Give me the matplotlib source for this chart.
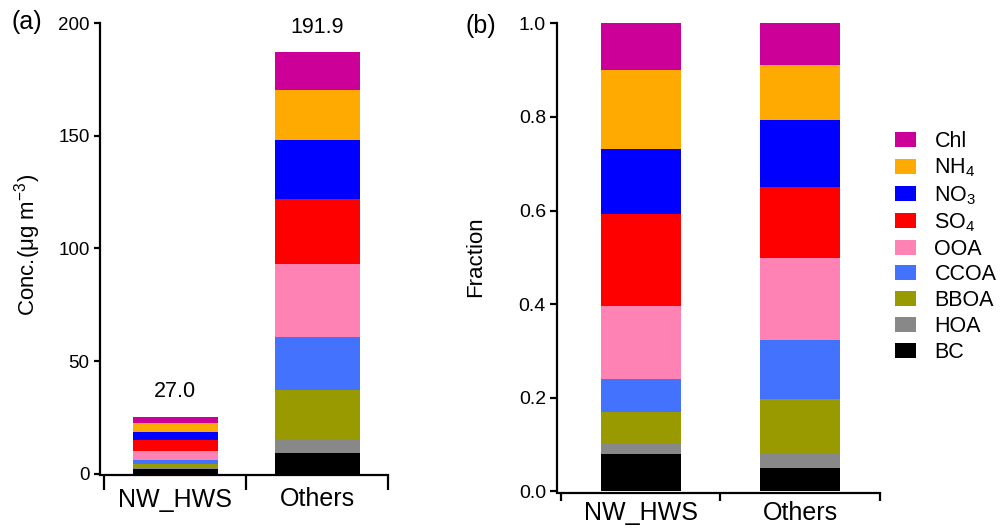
import matplotlib
matplotlib.use("Agg")
import matplotlib.pyplot as plt
import numpy as np
from matplotlib.ticker import FixedLocator, FormatStrFormatter

plt.rcParams['font.family'] = ['Liberation Sans', 'DejaVu Sans']
plt.rcParams['mathtext.fontset'] = 'custom'
plt.rcParams['mathtext.rm'] = 'Liberation Sans'
plt.rcParams['mathtext.it'] = 'Liberation Sans:italic'
plt.rcParams['mathtext.bf'] = 'Liberation Sans:bold'

# ---------------- data ----------------
categories = ["NW_HWS", "Others"]
species = ["BC", "HOA", "BBOA", "CCOA", "OOA", "SO4", "NO3", "NH4", "Chl"]
species_labels = ["BC", "HOA", "BBOA", "CCOA", "OOA",
                  r"SO$_{\mathregular{4}}$", r"NO$_{\mathregular{3}}$",
                  r"NH$_{\mathregular{4}}$", "Chl"]
colors = ["#000000", "#888888", "#999900", "#4372FF", "#FF82B4",
          "#FF0000", "#0000FF", "#FFAA00", "#CC0099"]

conc_nw_hws = [2.00, 0.63, 1.67, 1.80, 3.90, 5.01, 3.52, 4.23, 2.55]
conc_others = [9.2, 6.1, 21.7, 23.5, 32.6, 28.7, 26.5, 22.1, 16.7]
total_labels = ["27.0", "191.9"]

conc = np.array([conc_nw_hws, conc_others])          # (category, species)
frac = conc / conc.sum(axis=1, keepdims=True)

# ---------------- figure ----------------
W, H = 1003, 528
fig = plt.figure(figsize=(W / 100, H / 100), dpi=100)

def px_axes(l, r, t, b):
    return fig.add_axes([l / W, (H - b) / H, (r - l) / W, (b - t) / H])

axa = px_axes(100, 388, 23, 475)
axb = px_axes(557, 880, 23.3, 493.3)

x = np.arange(len(categories))

def stacked(ax, data, width):
    bottom = np.zeros(len(categories))
    handles = []
    for j, sp in enumerate(species):
        h = ax.bar(x, data[:, j], width, bottom=bottom, color=colors[j],
                   label=species_labels[j], linewidth=0)
        handles.append(h)
        bottom += data[:, j]
    return handles, bottom

handles, tops = stacked(axa, conc, 0.6)
stacked(axb, frac, 0.5)

for i, lab in enumerate(total_labels):
    axa.annotate(lab, xy=(x[i], tops[i]), xytext=(0, 14), textcoords='offset points',
                 ha='center', va='baseline', fontsize=15.5)

def style(ax, ylim, yticks, fmt, ytick_fs, ylen, xlen, xpad, xleft):
    ax.set_xlim(xleft, 1.5)
    ax.set_ylim(*ylim)
    for s in ['top', 'right']:
        ax.spines[s].set_visible(False)
    for s in ['left', 'bottom']:
        ax.spines[s].set_linewidth(1.6)
    ax.spines['left'].set_bounds(0, ylim[1])
    ax.yaxis.set_major_locator(FixedLocator(yticks))
    ax.yaxis.set_major_formatter(FormatStrFormatter(fmt))
    ax.tick_params(axis='y', direction='out', length=ylen, width=1.6,
                   labelsize=ytick_fs, pad=3)
    ax.set_xticks(x)
    ax.set_xticklabels(categories)
    ax.xaxis.set_minor_locator(FixedLocator([-0.5, 0.5, 1.5]))
    ax.tick_params(axis='x', which='major', length=0, labelsize=18, pad=xpad)
    ax.tick_params(axis='x', which='minor', direction='out', length=xlen, width=1.6)

style(axa, (-0.5, 200), [0, 50, 100, 150, 200], '%d', 13.5, 4.5, 11, 9, -0.53)
style(axb, (-0.004, 1.0), [0, 0.2, 0.4, 0.6, 0.8, 1.0], '%.1f', 14, 5, 6, 5.5, -0.525)

axa.set_ylabel(r"Conc.(μg m$^{\mathregular{-3}}$)", fontsize=16, va='center', ha='center')
axa.yaxis.set_label_coords(-0.25, 0.508)
axb.set_ylabel("Fraction", fontsize=16, va='center', ha='center')
axb.yaxis.set_label_coords(-0.251, 0.503)

fig.text(27 / W, 1 - 22 / H, "(a)", fontsize=18, ha='center', va='center')
fig.text(481 / W, 1 - 26 / H, "(b)", fontsize=18, ha='center', va='center')

fig.legend(handles[::-1], species_labels[::-1], loc='upper left',
           bbox_to_anchor=(895 / W, 1 - 131 / H), frameon=False, fontsize=15.5,
           handlelength=0.98, handleheight=0.7, handletextpad=0.85,
           labelspacing=0.22, borderpad=0, borderaxespad=0)

fig.savefig("out.png", dpi=100)
